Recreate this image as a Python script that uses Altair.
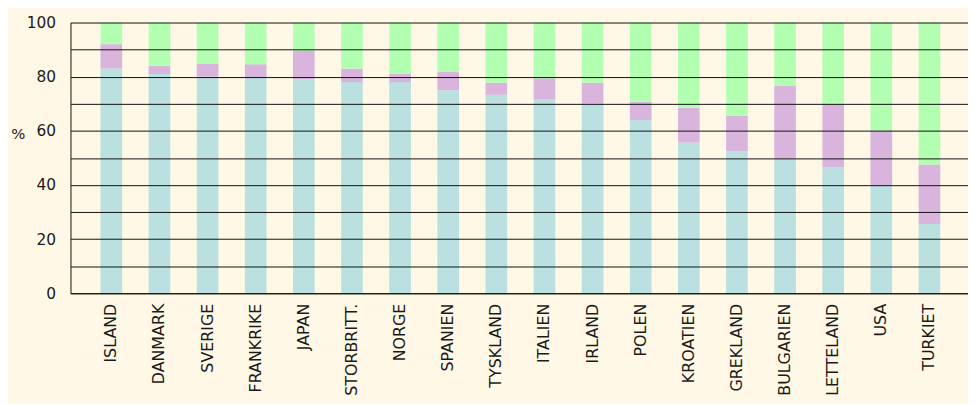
import altair as alt
import pandas as pd

countries = ["ISLAND", "DANMARK", "SVERIGE", "FRANKRIKE", "JAPAN", "STORBRITT.",
             "NORGE", "SPANIEN", "TYSKLAND", "ITALIEN", "IRLAND", "POLEN",
             "KROATIEN", "GREKLAND", "BULGARIEN", "LETTELAND", "USA", "TURKIET"]
# top of the teal segment (%)
teal_top = [83, 81, 80, 79.5, 79, 78, 78, 75, 73.3, 71.5, 70, 64, 55.7, 52.4, 49.8, 46.5, 39.7, 25.6]
# top of the purple segment (%)
purple_top = [92, 84, 84.7, 84.6, 89.5, 83, 81, 81.7, 77.8, 79.4, 77.8, 70.7, 68.5, 65.6, 76.6, 70, 60, 47.6]

segments = ["teal", "purple", "green"]
colors = ["#bae0e0", "#d9b5de", "#b3ffb1"]

rows = []
for c, t, p in zip(countries, teal_top, purple_top):
    rows.append({"land": c, "seg": "teal", "order": 0, "value": t})
    rows.append({"land": c, "seg": "purple", "order": 1, "value": p - t})
    rows.append({"land": c, "seg": "green", "order": 2, "value": 100 - p})
df = pd.DataFrame(rows)

chart = alt.Chart(df).mark_bar().encode(
    x=alt.X("land:N", sort=countries,
            scale=alt.Scale(paddingInner=0.55, paddingOuter=0.6, align=0.52),
            axis=alt.Axis(title=None, labelAngle=-90, ticks=False, labelPadding=10,
                          labelFontSize=16, labelColor="#1a1a1a", domainColor="#111",
                          labelFont="DejaVu Sans", grid=False, zindex=1)),
    y=alt.Y("value:Q", stack="zero",
            scale=alt.Scale(domain=[0, 100], nice=False),
            axis=alt.Axis(values=list(range(0, 101, 10)),
                          labelExpr="datum.value % 20 == 0 ? datum.label : ''",
                          title="%", titleAngle=0, titleX=-53, titleY=112,
                          titleAlign="center", titleBaseline="middle",
                          titleFontSize=15, titleFontWeight="normal", titleColor="#1a1a1a",
                          titleFont="DejaVu Sans",
                          ticks=False, tickSize=0, labelPadding=15, labelFontSize=15.5,
                          labelFont="DejaVu Sans", labelColor="#1a1a1a",
                          grid=True, gridColor="#111", gridWidth=1,
                          domainColor="#111", zindex=1)),
    color=alt.Color("seg:N", scale=alt.Scale(domain=segments, range=colors), legend=None),
    order=alt.Order("order:Q", sort="ascending"),
).properties(
    width=905, height=273,
    autosize=alt.AutoSizeParams(type="none"),
    padding={"left": 63, "top": 13, "right": 0, "bottom": 110},
    background="#fff8e6",
).configure_view(stroke=None)

chart.save("out.html", embed_options={"renderer": "svg", "actions": False})
